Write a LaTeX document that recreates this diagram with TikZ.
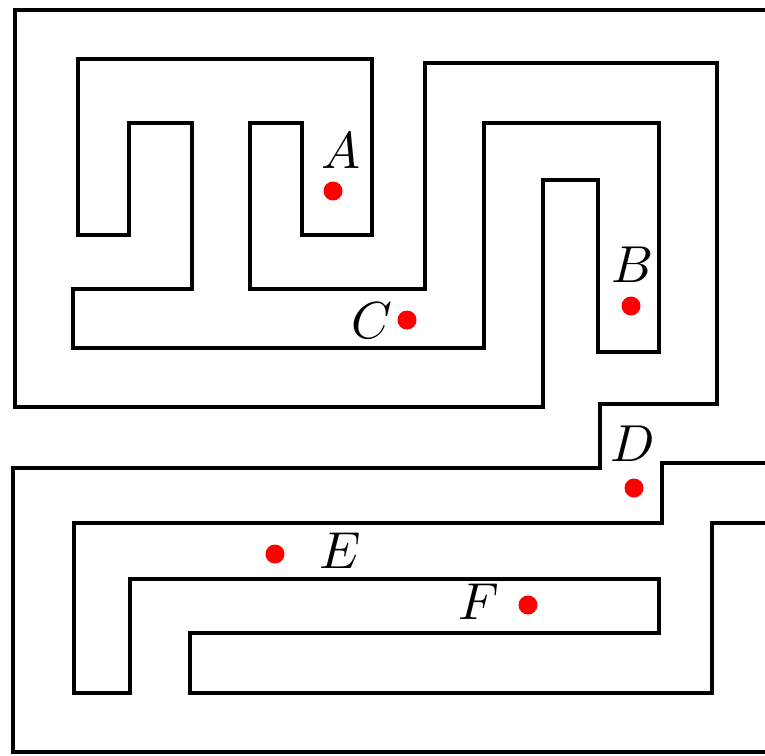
\documentclass[tikz,border=0pt]{standalone}
\newcommand{\biglab}[1]{\scalebox{5.2}{$#1$}}
\begin{document}
\begin{tikzpicture}[x=1pt,y=-1pt,
  wall/.style={line width=3.8pt, line join=miter, black},
  pt/.style={circle, fill=red, draw=none, minimum size=19pt, inner sep=0pt},
  lab/.style={inner sep=0pt}]
\useasboundingbox (0,0) rectangle (765,755);
% wall 1 (outer + upper maze)
\draw[wall] (766,10) -- (15,10) -- (15,407) -- (543,407) -- (543,180) -- (598,180)
  -- (598,352) -- (659,352) -- (659,123) -- (484,123) -- (484,348) -- (73,348)
  -- (73,289) -- (192,289) -- (192,123) -- (129,123) -- (129,235) -- (78,235)
  -- (78,59) -- (372,59) -- (372,235) -- (302,235) -- (302,123) -- (250,123)
  -- (250,289) -- (425,289) -- (425,63) -- (717,63) -- (717,404) -- (600,404)
  -- (600,468) -- (13,468) -- (13,752) -- (766,752);
% wall 2 (lower maze)
\draw[wall] (766,463) -- (662,463) -- (662,523) -- (74,523) -- (74,693) -- (130,693)
  -- (130,579) -- (659,579) -- (659,633) -- (190,633) -- (190,693) -- (712,693)
  -- (712,523) -- (766,523);
% points
\node[pt] (pA) at (333,191) {};
\node[pt] (pB) at (631,306) {};
\node[pt] (pC) at (407,320) {};
\node[pt] (pD) at (634,488) {};
\node[pt] (pE) at (275,554) {};
\node[pt] (pF) at (528,605) {};
% labels
\node[lab] (lA) at (341,151) {\biglab{A}};
\node[lab] (lB) at (633,265) {\biglab{B}};
\node[lab] (lC) at (372,321) {\biglab{C}};
\node[lab] (lD) at (633,444) {\biglab{D}};
\node[lab] (lE) at (340,551) {\biglab{E}};
\node[lab] (lF) at (479,602) {\biglab{F}};
\end{tikzpicture}
\end{document}
